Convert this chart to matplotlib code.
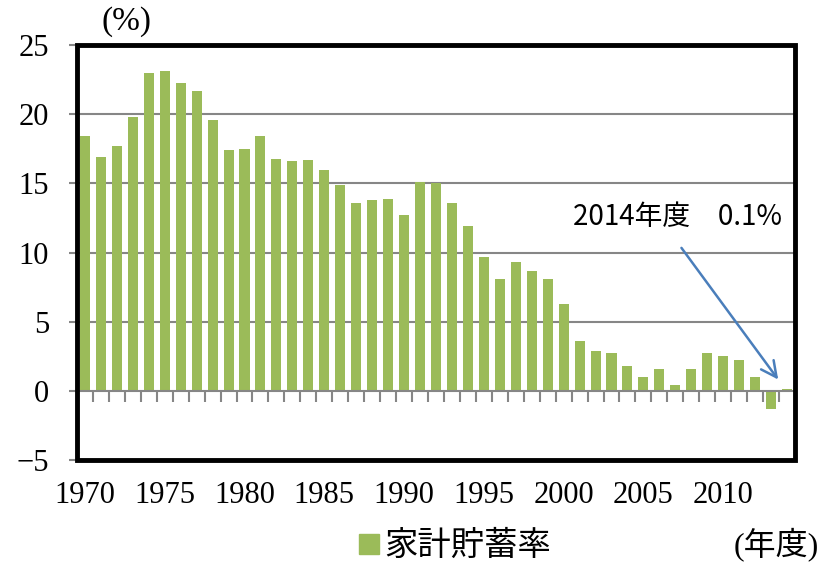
import numpy as np
import matplotlib.pyplot as plt
from matplotlib.patches import Rectangle
from matplotlib.lines import Line2D
import matplotlib.transforms as mtransforms

# 家計貯蓄率 (年度)
years = list(range(1970, 2015))
saving_rate = [18.4, 16.9, 17.7, 19.8, 23.0, 23.1, 22.3, 21.7, 19.6, 17.4,
               17.5, 18.4, 16.8, 16.6, 16.7, 16.0, 14.9, 13.6, 13.8, 13.9,
               12.7, 15.1, 15.0, 13.6, 11.9, 9.7, 8.1, 9.3, 8.7, 8.1,
               6.3, 3.6, 2.9, 2.7, 1.8, 1.0, 1.6, 0.4, 1.6, 2.7,
               2.5, 2.2, 1.0, -1.3, 0.1]
year_labels = [1970, 1975, 1980, 1985, 1990, 1995, 2000, 2005, 2010]
y_ticks = [-5, 0, 5, 10, 15, 20, 25]

serif = ['Liberation Serif', 'DejaVu Serif']
serif_jp = ['Liberation Serif', 'Noto Sans CJK JP']
jp = ['Noto Sans CJK JP', 'DejaVu Sans']
green = '#9BBB59'

fig = plt.figure(figsize=(8.33, 5.65), dpi=100)
ax = fig.add_axes([0.0924, 0.186, 0.862, 0.734])

x = np.arange(len(years))
ax.bar(x, saving_rate, width=0.63, color=green, zorder=3)

ax.set_xlim(-0.5, len(years) - 0.5)
ax.set_ylim(-5, 25)

# grid
for v in [5, 10, 15, 20]:
    ax.axhline(v, color='#868686', lw=1.5, zorder=1)

# y axis
ax.set_yticks(y_ticks)
ax.set_yticklabels([str(v).replace('-', '\u2212') for v in y_ticks], family=serif, fontsize=22)
ax.tick_params(axis='y', direction='out', length=6, width=1.5, color='#868686', pad=14)

# x axis along zero with boundary ticks
ax.spines['bottom'].set_position(('data', 0))
ax.spines['bottom'].set_color('#868686')
ax.spines['bottom'].set_linewidth(1.5)
ax.spines['bottom'].set_zorder(4)
ax.set_xticks(np.arange(-0.5, len(years), 1.0))
ax.set_xticklabels([])
ax.tick_params(axis='x', direction='out', length=8, width=1.5, color='#868686')
ax.spines['left'].set_color('#868686')
ax.spines['left'].set_linewidth(1.5)
ax.spines['top'].set_visible(False)
ax.spines['right'].set_visible(False)

trans = mtransforms.blended_transform_factory(ax.transData, ax.transAxes)
for yr in year_labels:
    ax.text(years.index(yr), -0.05, str(yr), transform=trans, ha='center', va='top',
            family=serif, fontsize=22)

# black frame
ax.add_patch(Rectangle((0, 0), 1, 1, transform=ax.transAxes, fill=False,
                       edgecolor='black', lw=3.5, clip_on=False, zorder=5))

# annotation
ax.annotate('', xy=(43.55, 0.65), xytext=(37.28, 10.5),
            arrowprops=dict(arrowstyle='->', color='#4A7EBB', lw=1.8, mutation_scale=28))
ax.text(37.15, 12.6, '2014年度\u30000.1%', family=jp, fontsize=20, ha='center', va='center')

# labels
fig.text(0.152, 0.961, '(%)', family=serif_jp, fontsize=24, ha='center', va='center')
fig.text(0.932, 0.036, '(年度)', family=serif_jp, fontsize=23, ha='center', va='center')
h = Line2D([], [], marker='s', color='none', markerfacecolor=green, markeredgecolor=green, markersize=15)
fig.legend([h], ['家計貯蓄率'], loc='center', bbox_to_anchor=(0.544, 0.034), frameon=False,
           prop={'family': 'Noto Sans CJK JP', 'size': 24}, handletextpad=0.05, handlelength=0.8)

fig.savefig('out.png', dpi=100)
